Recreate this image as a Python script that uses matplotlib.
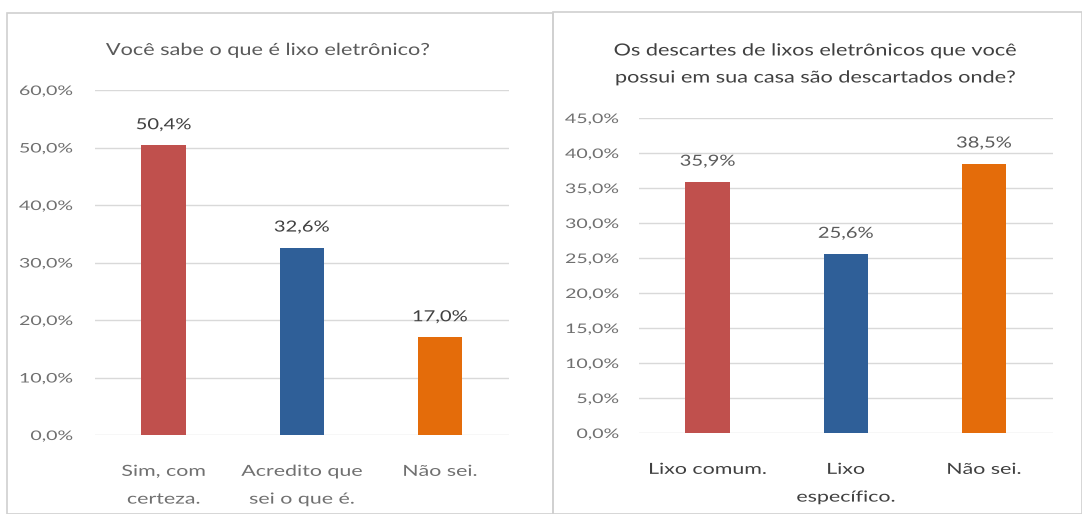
import matplotlib
matplotlib.use("Agg")
import matplotlib.pyplot as plt
from matplotlib.patches import Rectangle
from matplotlib.patheffects import AbstractPathEffect
from matplotlib.transforms import Affine2D

# Survey results
left_title = "Você sabe o que é lixo eletrônico?"
left_categories = ["Sim, com\ncerteza.", "Acredito que\nsei o que é.", "Não sei."]
left_values = [50.4, 32.6, 17.0]
left_ticks = [0, 10, 20, 30, 40, 50, 60]

right_title = "Os descartes de lixos eletrônicos que você\npossui em sua casa são descartados onde?"
right_categories = ["Lixo comum.", "Lixo\nespecífico.", "Não sei."]
right_values = [35.9, 25.6, 38.5]
right_ticks = [0, 5, 10, 15, 20, 25, 30, 35, 40, 45]

bar_colors = ["#c0504d", "#2f5f98", "#e46c0a"]
tick_grey = "#707070"
mid_grey = "#5a5a5a"
dark_text = "#404040"
grid_color = "#d9d9d9"

plt.rcParams["font.family"] = ["Lato", "DejaVu Sans"]

W, H = 1082, 514
fig = plt.figure(figsize=(W / 100, H / 100), dpi=100)
fig.patch.set_facecolor("white")


class Widen(AbstractPathEffect):
    """Draw text glyphs widened horizontally about a fixed anchor."""

    def __init__(self, sx, anchor="center"):
        super().__init__()
        self.sx = sx
        self.anchor = anchor

    def draw_path(self, renderer, gc, tpath, affine, rgbFace=None):
        ext = tpath.get_extents()
        if self.anchor == "right":
            cx = ext.x1
        elif self.anchor == "left":
            cx = ext.x0
        else:
            cx = 0.5 * (ext.x0 + ext.x1)
        pre = Affine2D().translate(-cx, 0).scale(self.sx, 1).translate(cx, 0)
        renderer.draw_path(gc, tpath, pre + affine, rgbFace)


def px_axes(x0, y_top, x1, y_bottom):
    return fig.add_axes([x0 / W, 1 - y_bottom / H, (x1 - x0) / W, (y_bottom - y_top) / H])


def pct(v):
    return f"{v:.1f}%".replace(".", ",")


def draw_panel(ax, cats, vals, ticks, ymax, xlab_color, val_color, ypad):
    x = range(len(cats))
    ax.bar(x, vals, width=0.32, color=bar_colors, zorder=3)
    ax.set_xlim(-0.5, len(cats) - 0.5)
    ax.set_ylim(0, ymax)
    ax.set_yticks(ticks)
    ax.set_yticklabels([pct(t) for t in ticks], color=tick_grey, fontsize=9.5)
    ax.set_xticks(list(x))
    ax.set_xticklabels(cats, color=xlab_color, fontsize=11, linespacing=2.25)
    ax.tick_params(length=0, axis="both")
    ax.tick_params(axis="x", pad=21.5)
    ax.tick_params(axis="y", pad=ypad)
    ax.grid(axis="y", color=grid_color, linewidth=1, zorder=0)
    for s in ax.spines.values():
        s.set_visible(False)
    for lbl in ax.get_yticklabels():
        lbl.set_path_effects([Widen(1.48, "right")])
    for lbl in ax.get_xticklabels():
        lbl.set_path_effects([Widen(1.4)])
    for xi, v in zip(x, vals):
        t = ax.annotate(pct(v), (xi, v), xytext=(0, 14.4), textcoords="offset points",
                        ha="center", va="center", color=val_color, fontsize=11)
        t.set_path_effects([Widen(1.32)])


# panel frames
fig.add_artist(Rectangle((7 / W, 0), (553 - 7) / W, 1 - 13 / H, transform=fig.transFigure,
                         fill=False, edgecolor="#d0d0d0", linewidth=1.2))
fig.add_artist(Rectangle((553 / W, 0), (1082 - 553) / W, 1 - 12 / H, transform=fig.transFigure,
                         fill=False, edgecolor="#d0d0d0", linewidth=1.2))

ax1 = px_axes(94.5, 90, 509, 435)
draw_panel(ax1, left_categories, left_values, left_ticks, 60, tick_grey, dark_text, 15.5)
t1 = fig.text(268 / W, 1 - 50 / H, left_title, ha="center", va="center",
              color=mid_grey, fontsize=12)
t1.set_path_effects([Widen(1.3)])

ax2 = px_axes(638.5, 118, 1053, 433)
draw_panel(ax2, right_categories, right_values, right_ticks, 45, dark_text, mid_grey, 14)
t2 = fig.text(815 / W, 1 - 64 / H, right_title, ha="center", va="center",
              color=dark_text, fontsize=12, linespacing=1.85)
t2.set_path_effects([Widen(1.3)])

fig.savefig("out.png", dpi=100)
